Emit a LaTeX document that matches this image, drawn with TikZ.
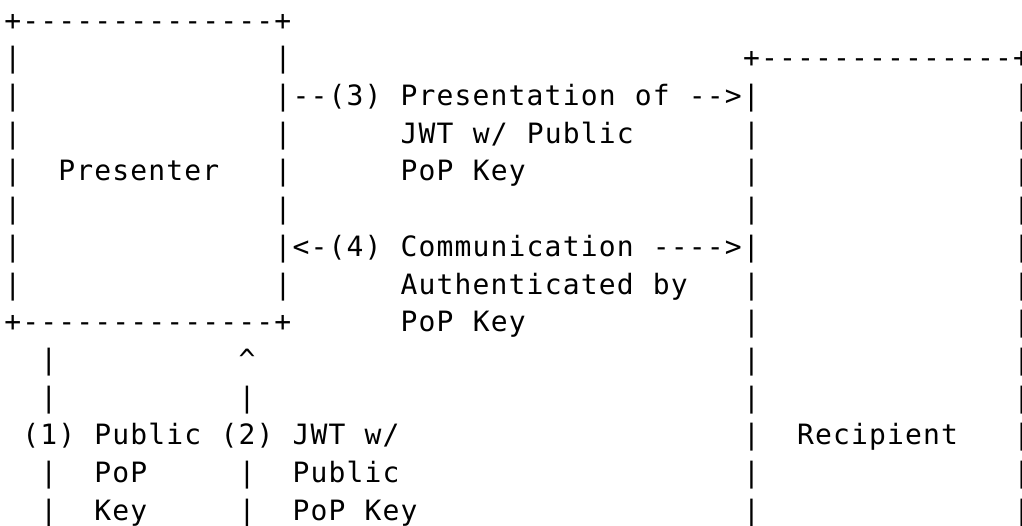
\documentclass[tikz,border=0pt]{standalone}
\usepackage{fontspec}
\newfontfamily\asciifont[LetterSpace=4.1,WordSpace=1.069,Ligatures=TeXOff]{DejaVu Sans Mono}
\usepackage{tikz}
\usetikzlibrary{positioning}

\begin{document}
\begin{tikzpicture}[
  x=9.01pt, y=-18.85pt,
  ascii/.style={anchor=base west, inner sep=0pt, outer sep=0pt, font=\asciifont\fontsize{14pt}{14pt}\selectfont}
]
  \useasboundingbox (-2.15pt,15.05pt) rectangle (508.85pt,-247.45pt);

  % Presenter box
  \node[ascii] (pres-top) at (0,0) {+--------------+};
  \node[ascii] (pres-bot) at (0,8) {+--------------+};
  \foreach \r in {1,...,7} \node[ascii] (pres-l\r) at (0,\r) {|};
  \foreach \r in {1,3,4,5,7} \node[ascii] (pres-r\r) at (15,\r) {|};
  \node[ascii] (presenter) at (3,4) {Presenter};

  % Recipient box
  \node[ascii] (recp-top) at (41,1) {+--------------+};
  \foreach \r in {3,4,5,7,8,9,10,11,12,13} \node[ascii] (recp-l\r) at (41,\r) {|};
  \foreach \r in {2,...,13} \node[ascii] (recp-r\r) at (56,\r) {|};
  \node[ascii] (recipient) at (44,11) {Recipient};

  % messages (3) and (4)
  \node[ascii] (msg3) at (15,2) {|--(3) Presentation of -->|};
  \node[ascii] (msg3-b) at (22,3) {JWT w/ Public};
  \node[ascii] (msg3-c) at (22,4) {PoP Key};
  \node[ascii] (msg4) at (15,6) {|<-(4) Communication ---->|};
  \node[ascii] (msg4-b) at (22,7) {Authenticated by};
  \node[ascii] (msg4-c) at (22,8) {PoP Key};

  % steps (1) and (2)
  \foreach \r in {9,10,12,13} \node[ascii] (step1-\r) at (2,\r) {|};
  \node[ascii] (step1) at (1,11) {(1) Public};
  \node[ascii] (step1-b) at (5,12) {PoP};
  \node[ascii] (step1-c) at (5,13) {Key};
  \node[ascii] (step2-tip) at (13,9) {\textasciicircum};
  \foreach \r in {10,12,13} \node[ascii] (step2-\r) at (13,\r) {|};
  \node[ascii] (step2) at (12,11) {(2) JWT w/};
  \node[ascii] (step2-b) at (16,12) {Public};
  \node[ascii] (step2-c) at (16,13) {PoP Key};
\end{tikzpicture}
\end{document}
